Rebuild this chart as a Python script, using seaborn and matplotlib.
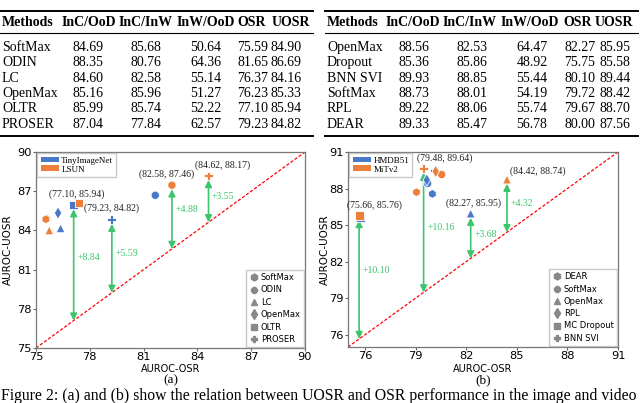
import matplotlib
matplotlib.use("Agg")
import matplotlib.pyplot as plt
from matplotlib.lines import Line2D
from matplotlib.patches import Patch
import pandas as pd
import seaborn as sns

# ---- tables ----
col_names = ["Methods", "InC/OoD", "InC/InW", "InW/OoD", "OSR", "UOSR"]

img_methods = ["SoftMax", "ODIN", "LC", "OpenMax", "OLTR", "PROSER"]
img_inc_ood = ["84.69", "88.35", "84.60", "85.16", "85.99", "87.04"]
img_inc_inw = ["85.68", "80.76", "82.58", "85.96", "85.74", "77.84"]
img_inw_ood = ["50.64", "64.36", "55.14", "51.27", "52.22", "62.57"]
img_osr = ["75.59", "81.65", "76.37", "76.23", "77.10", "79.23"]
img_uosr = ["84.90", "86.69", "84.16", "85.33", "85.94", "84.82"]

vid_methods = ["OpenMax", "Dropout", "BNN SVI", "SoftMax", "RPL", "DEAR"]
vid_inc_ood = ["88.56", "85.36", "89.93", "88.73", "89.22", "89.33"]
vid_inc_inw = ["82.53", "85.86", "88.85", "88.01", "88.06", "85.47"]
vid_inw_ood = ["64.47", "48.92", "55.44", "54.19", "55.74", "56.78"]
vid_osr = ["82.27", "75.75", "80.10", "79.72", "79.67", "80.00"]
vid_uosr = ["85.95", "85.58", "89.44", "88.42", "88.70", "87.56"]

# ---- scatter (a): image ----
a_dataset = ["TinyImageNet"] * 6 + ["LSUN"] * 5
a_method = ["SoftMax", "ODIN", "LC", "OpenMax", "OLTR", "PROSER",
            "SoftMax", "LC", "OLTR", "ODIN", "PROSER"]
a_osr = [75.59, 81.65, 76.37, 76.23, 77.10, 79.23, 75.55, 75.74, 77.40, 82.58, 84.62]
a_uosr = [84.90, 86.69, 84.16, 85.33, 85.94, 84.82, 84.85, 84.00, 86.10, 87.46, 88.17]
a_marked_osr = [77.10, 79.23, 82.58, 84.62]
a_marked_uosr = [85.94, 84.82, 87.46, 88.17]

# ---- scatter (b): video ----
b_dataset = ["HMDB51"] * 6 + ["MiTv2"] * 6
b_method = ["DEAR", "SoftMax", "OpenMax", "RPL", "MC Dropout", "BNN SVI",
            "DEAR", "SoftMax", "OpenMax", "RPL", "MC Dropout", "BNN SVI"]
b_osr = [80.00, 79.72, 82.27, 79.67, 75.75, 80.10, 79.06, 80.55, 84.42, 80.20, 75.66, 79.48]
b_uosr = [87.56, 88.42, 85.95, 88.70, 85.58, 89.50, 87.70, 89.15, 88.74, 89.40, 85.76, 89.64]
b_marked_osr = [75.66, 79.48, 82.27, 84.42]
b_marked_uosr = [85.76, 89.64, 85.95, 88.74]

BLUE = "#4a78c9"
ORANGE = "#ee7f3b"
GREEN = "#3cc46e"
SERIF = "Liberation Serif"

W, H = 640, 403
fig = plt.figure(figsize=(6.4, 4.03), dpi=100)


def fx(px):
    return px / W


def fy(py):
    return 1 - py / H


def draw_table(x0, x1, methods, cols, head_x, val_x):
    for y, lw in [(10.5, 1.4), (33, 0.8), (136, 1.4)]:
        fig.add_artist(Line2D([fx(x0), fx(x1)], [fy(y), fy(y)], color="black", lw=lw))
    fig.text(fx(x0 + 2), fy(22.5), col_names[0], family=SERIF, weight="bold",
             fontsize=10, va="center", ha="left")
    for name, hx in zip(col_names[1:], head_x):
        fig.text(fx(hx), fy(22.5), name, family=SERIF, weight="bold",
                 fontsize=10, va="center", ha="center")
    for i, m in enumerate(methods):
        ry = 47.5 + i * 15.3
        fig.text(fx(x0 + 2), fy(ry), m, family=SERIF, fontsize=10, va="center", ha="left")
        for col, vx in zip(cols, val_x):
            fig.text(fx(vx), fy(ry), col[i], family=SERIF, fontsize=10,
                     va="center", ha="center")


draw_table(0, 313, img_methods, [img_inc_ood, img_inc_inw, img_inw_ood, img_osr, img_uosr],
           [89, 146, 206, 252, 291], [88, 146, 206, 253, 286])
draw_table(325, 638, vid_methods, [vid_inc_ood, vid_inc_inw, vid_inw_ood, vid_osr, vid_uosr],
           [413, 470, 530, 578, 614], [414, 472, 532, 580, 615])


def scatter_panel(rect, df, datasets, marker_map, lim, ticks, marked_osr, marked_uosr,
                  coord_off, gain_off, xlab_pos, ylab_pos):
    ax = fig.add_axes(rect)
    ax.plot(lim, lim, color="red", lw=0.9, ls=(0, (2.5, 1.5)), zorder=1)
    sns.scatterplot(data=df, x="osr", y="uosr", hue="dataset", style="method",
                    markers=marker_map, palette=[BLUE, ORANGE], hue_order=datasets,
                    s=40, linewidth=0.6, edgecolor="white", legend=False, ax=ax, zorder=3)
    for x, y, co, go in zip(marked_osr, marked_uosr, coord_off, gain_off):
        ax.annotate("", xy=(x, y), xytext=(x, x),
                    arrowprops=dict(arrowstyle="<|-|>,head_length=0.4,head_width=0.2",
                                    color=GREEN, lw=1.2, shrinkA=0, shrinkB=3,
                                    mutation_scale=10), zorder=2)
        ax.annotate(f"({x:.2f}, {y:.2f})", xy=(x, y), xytext=co, textcoords="offset points",
                    ha="center", va="center", fontsize=7, family=SERIF, color="#222222")
        ax.annotate(f"+{y - x:.2f}", xy=(x, (x + y) / 2), xytext=go,
                    textcoords="offset points", ha="left", va="center",
                    fontsize=7, family=SERIF, color=GREEN)
    ax.set_xlim(lim)
    ax.set_ylim(lim)
    ax.set_xticks(ticks)
    ax.set_yticks(ticks)
    ax.tick_params(labelsize=8.2, length=2.5, width=0.8, color="#666666", pad=0.5)
    for sp in ax.spines.values():
        sp.set_color("#777777")
        sp.set_linewidth(0.9)
    ax.set_xlabel("AUROC-OSR", fontsize=7)
    ax.set_ylabel("AUROC-UOSR", fontsize=7.5)
    ax.xaxis.set_label_coords(0.5, xlab_pos)
    ax.yaxis.set_label_coords(ylab_pos, 0.5)

    leg1 = ax.legend(handles=[Patch(facecolor=c, label=d) for c, d in zip([BLUE, ORANGE], datasets)],
                     loc="upper left", prop={"family": SERIF, "size": 6.5}, handlelength=2.0,
                     handleheight=0.6, labelspacing=0.1, borderaxespad=0.15, borderpad=0.35,
                     handletextpad=0.3, fancybox=False, edgecolor="#bbbbbb")
    ax.add_artist(leg1)
    mk = [Line2D([], [], ls="", marker=marker_map[m], color="#888888", markersize=5, label=m)
          for m in marker_map]
    ax.legend(handles=mk, loc="lower right", fontsize=6, labelspacing=0.4,
              borderaxespad=0.1, handletextpad=0.2, handlelength=1.2,
              fancybox=False, edgecolor="#bbbbbb")
    return ax


a_df = pd.DataFrame({"dataset": a_dataset, "method": a_method, "osr": a_osr, "uosr": a_uosr})
a_markers = {"SoftMax": "h", "ODIN": "8", "LC": "^", "OpenMax": "d", "OLTR": "s", "PROSER": "P"}
scatter_panel([fx(36), fy(348), fx(305) - fx(36), fy(152) - fy(348)], a_df,
              ["TinyImageNet", "LSUN"], a_markers, (75, 90), range(75, 91, 3),
              a_marked_osr, a_marked_uosr,
              [(2, 8), (0, 8), (-4, 8), (10, 8)], [(2.5, 4), (2.5, 2), (2.5, 5.5), (2.5, 2)],
              -0.083, -0.085)

b_df = pd.DataFrame({"dataset": b_dataset, "method": b_method, "osr": b_osr, "uosr": b_uosr})
b_markers = {"DEAR": "h", "SoftMax": "8", "OpenMax": "^", "RPL": "d", "MC Dropout": "s",
             "BNN SVI": "P"}
scatter_panel([fx(348), fy(347), fx(618) - fx(348), fy(152) - fy(347)], b_df,
              ["HMDB51", "MiTv2"], b_markers, (75, 91), range(76, 92, 3),
              b_marked_osr, b_marked_uosr,
              [(11, 8), (15, 7.5), (2, 7.5), (22, 6)], [(2.5, 5), (2.5, 2.5), (2.5, 1), (2.5, 1.5)],
              -0.089, -0.068)

fig.text(fx(170.5), fy(380), "(a)", family=SERIF, fontsize=9.5, ha="center", va="center")
fig.text(fx(483), fy(380), "(b)", family=SERIF, fontsize=9.5, ha="center", va="center")
fig.text(fx(1), fy(400), "Figure 2: (a) and (b) show the relation between UOSR and OSR "
         "performance in the image and video", family=SERIF, fontsize=11.3, ha="left",
         va="baseline")

fig.savefig("out.png", dpi=100)
